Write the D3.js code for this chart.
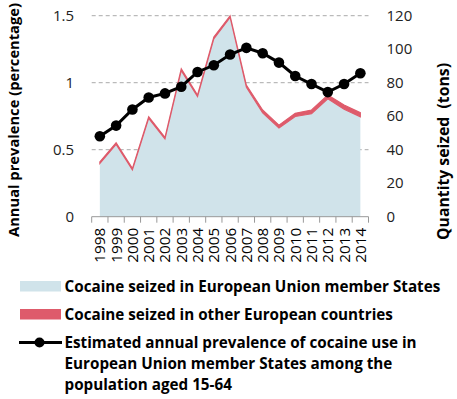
<!DOCTYPE html>
<html>
<head>
<meta charset="utf-8">
<script src="https://cdn.jsdelivr.net/npm/d3@7"></script>
<style>
  html, body { margin: 0; padding: 0; background: #fff; }
  svg { display: block; font-family: "Open Sans", Lato, sans-serif; }
</style>
</head>
<body>
<div id="chart"></div>
<script>
// data
const years = ['1998','1999','2000','2001','2002','2003','2004','2005','2006','2007','2008','2009','2010','2011','2012','2013','2014'];
// tons, EU member States (blue area)
const euSeized = [31.8, 43.2, 27.9, 58.7, 46.4, 87.2, 71.7, 106.2, 119, 77.3, 62, 53, 59.8, 61.5, 70.4, 64.2, 59.6];
// tons, other European countries (thin band stacked on top)
const otherSeized = [1, 1, 1, 1, 1, 1.2, 1, 1.1, 1, 1.3, 1.7, 1.7, 1.9, 2.2, 2.3, 2.5, 2.5];
// percent, annual prevalence
const prevalence = [0.6, 0.68, 0.8, 0.89, 0.92, 0.97, 1.08, 1.13, 1.21, 1.26, 1.22, 1.15, 1.05, 0.99, 0.93, 0.99, 1.07];
const leftTicks = [0, 0.5, 1, 1.5];
const rightTicks = [0, 20, 40, 60, 80, 100, 120];

const legendItems = [
  { type: 'area', color: '#d0e3ea', lines: ['Cocaine seized in European Union member States'] },
  { type: 'area', color: '#de5b6b', lines: ['Cocaine seized in other European countries'] },
  { type: 'line', color: '#000', lines: ['Estimated annual prevalence of cocaine use in', 'European Union member States among the', 'population aged 15-64'] }
];

const W = 457, H = 399;
const plot = { left: 91.7, right: 368.5, top: 15.7, bottom: 216.7 };

const svg = d3.select('#chart').append('svg')
  .attr('width', W).attr('height', H);

// shrink/grow the font so a text takes the width measured on the picture
const fitWidth = (sel, target) => {
  sel.each(function() {
    let fs = parseFloat(d3.select(this).attr('font-size'));
    let w = this.getComputedTextLength();
    if (w > 0) d3.select(this).attr('font-size', (fs * target / w).toFixed(2));
  });
};

const x = d3.scaleBand().domain(years).range([plot.left, plot.right]);
const xc = d => x(d) + x.bandwidth() / 2;
const yL = d3.scaleLinear().domain([0, 1.5]).range([plot.bottom, plot.top]);
const yR = d3.scaleLinear().domain([0, 120]).range([plot.bottom, plot.top]);

// gridlines (dashed)
svg.append('g')
  .selectAll('line')
  .data(leftTicks.filter(t => t > 0))
  .enter().append('line')
    .attr('x1', plot.left).attr('x2', plot.right)
    .attr('y1', d => yL(d)).attr('y2', d => yL(d))
    .attr('stroke', '#aaa')
    .attr('stroke-width', 1)
    .attr('stroke-dasharray', '4,3');

const rows = years.map((yr, i) => ({ yr, eu: euSeized[i], other: otherSeized[i], prev: prevalence[i] }));

// EU area
svg.append('path')
  .datum(rows)
  .attr('fill', '#d0e3ea')
  .attr('d', d3.area().x(d => xc(d.yr)).y0(yR(0)).y1(d => yR(d.eu)));

// other countries, stacked on top of EU
svg.append('path')
  .datum(rows)
  .attr('fill', '#de5b6b')
  .attr('stroke', '#de5b6b')
  .attr('stroke-width', 1.1)
  .attr('d', d3.area().x(d => xc(d.yr)).y0(d => yR(d.eu)).y1(d => yR(d.eu + d.other)));

// bottom axis
const xAxis = svg.append('g')
  .attr('transform', `translate(0,${plot.bottom})`);
xAxis.append('line')
  .attr('x1', plot.left).attr('x2', plot.right)
  .attr('stroke', '#999');
xAxis.selectAll('.tk')
  .data(d3.range(years.length + 1))
  .enter().append('line')
    .attr('x1', i => plot.left + i * x.bandwidth())
    .attr('x2', i => plot.left + i * x.bandwidth())
    .attr('y1', 0).attr('y2', 6)
    .attr('stroke', '#999');
xAxis.selectAll('text')
  .data(years)
  .enter().append('text')
    .attr('transform', d => `translate(${xc(d) + 5.5},11) rotate(-90)`)
    .attr('text-anchor', 'end')
    .attr('font-size', 15)
    .attr('fill', '#000')
    .text(d => d)
    .call(fitWidth, 35);

// left tick labels
svg.append('g')
  .selectAll('text')
  .data(leftTicks)
  .enter().append('text')
    .attr('x', 74).attr('y', d => yL(d) + 5)
    .attr('text-anchor', 'end')
    .attr('font-size', 15)
    .attr('fill', '#222')
    .text(d => d);

// right tick labels
svg.append('g')
  .selectAll('text')
  .data(rightTicks)
  .enter().append('text')
    .attr('x', 386.5).attr('y', d => yR(d) + 5)
    .attr('font-size', 15)
    .attr('fill', '#222')
    .text(d => d);

// axis titles
svg.append('text')
  .attr('transform', 'translate(19,120) rotate(-90)')
  .attr('text-anchor', 'middle')
  .attr('font-size', 14)
  .attr('font-weight', 'bold')
  .text('Annual prevalence (percentage)')
  .call(fitWidth, 234);

svg.append('text')
  .attr('transform', 'translate(448.5,151.5) rotate(-90)')
  .attr('text-anchor', 'middle')
  .attr('font-size', 14)
  .attr('font-weight', 'bold')
  .style('white-space', 'pre')
  .text('Quantity seized  (tons)')
  .call(fitWidth, 177);

// prevalence line + dots
svg.append('path')
  .datum(rows)
  .attr('fill', 'none')
  .attr('stroke', '#000')
  .attr('stroke-width', 3)
  .attr('d', d3.line().x(d => xc(d.yr)).y(d => yL(d.prev)));

svg.append('g')
  .selectAll('circle')
  .data(rows)
  .enter().append('circle')
    .attr('cx', d => xc(d.yr))
    .attr('cy', d => yL(d.prev))
    .attr('r', 5.3)
    .attr('fill', '#000');

// legend
const legendTop = [281, 309, 337];
legendItems.forEach((item, i) => {
  const g = svg.append('g').attr('transform', `translate(0,${legendTop[i]})`);
  if (item.type === 'area') {
    g.append('rect')
      .attr('x', 20).attr('y', 0)
      .attr('width', 41).attr('height', 10.5)
      .attr('fill', item.color);
  } else {
    g.append('line')
      .attr('x1', 19).attr('x2', 62)
      .attr('y1', 5.5).attr('y2', 5.5)
      .attr('stroke', item.color).attr('stroke-width', 3);
    g.append('circle')
      .attr('cx', 39.5).attr('cy', 5.5).attr('r', 5)
      .attr('fill', item.color);
  }
  item.lines.forEach((ln, j) => {
    g.append('text')
      .attr('x', 64.5)
      .attr('y', 10.5 + j * 21)
      .attr('font-size', 15)
      .attr('font-weight', 'bold')
      .attr('fill', '#000')
      .text(ln);
  });
});
// first legend line is 376px wide on the picture; same size for all
const ref = svg.selectAll('g text').filter(function() { return this.textContent === legendItems[0].lines[0]; }).node();
const legendSize = (15 * 376 / ref.getComputedTextLength()).toFixed(2);
svg.selectAll('g text').filter(function() { return +d3.select(this).attr('x') === 64.5; }).attr('font-size', legendSize);
</script>
</body>
</html>
